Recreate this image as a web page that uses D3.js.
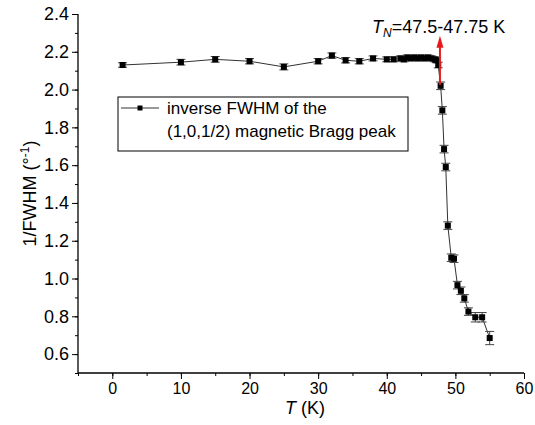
<!DOCTYPE html>
<html><head><meta charset="utf-8">
<script src="https://cdn.jsdelivr.net/npm/d3@7"></script>
<style>body{margin:0;background:#fff}svg{display:block}text{font-family:"Liberation Sans",Arial,sans-serif}</style>
</head><body><svg id="c" width="535" height="425"></svg>
<script>
const temps = [1.5, 10, 15, 20, 25, 30, 32, 34, 36, 38, 40, 41, 42, 42.5, 43, 43.5, 44, 44.5, 45, 45.5, 46, 46.5, 47, 47.25, 47.5, 47.85, 48.1, 48.35, 48.6, 48.9, 49.4, 49.8, 50.3, 50.8, 51.3, 51.9, 52.9, 53.9, 55];
const invFwhm = [2.13, 2.145, 2.16, 2.15, 2.12, 2.15, 2.18, 2.155, 2.15, 2.165, 2.16, 2.16, 2.165, 2.16, 2.17, 2.165, 2.17, 2.165, 2.17, 2.165, 2.17, 2.165, 2.16, 2.155, 2.13, 2.02, 1.89, 1.685, 1.59, 1.28, 1.11, 1.105, 0.965, 0.935, 0.895, 0.825, 0.795, 0.795, 0.685];
const errs = [0.012, 0.015, 0.015, 0.014, 0.016, 0.014, 0.014, 0.014, 0.014, 0.013, 0.013, 0.013, 0.013, 0.013, 0.013, 0.013, 0.013, 0.013, 0.013, 0.013, 0.013, 0.013, 0.013, 0.013, 0.015, 0.02, 0.02, 0.02, 0.02, 0.02, 0.02, 0.02, 0.02, 0.02, 0.02, 0.02, 0.025, 0.025, 0.035];
const xTicks = [0, 10, 20, 30, 40, 50, 60];
const yTicks = [0.6, 0.8, 1.0, 1.2, 1.4, 1.6, 1.8, 2.0, 2.2, 2.4];
const legendLines = ["inverse FWHM of the", "(1,0,1/2) magnetic Bragg peak"];
const tnRange = [47.75, 2.025, 2.285]; // arrow T, from, to

const svg = d3.select("#c");
const x = d3.scaleLinear().domain([-5, 60]).range([78, 524]);
const y = d3.scaleLinear().domain([0.5, 2.4]).range([373, 14]);

// axes
const xMinor = d3.range(-5, 61, 5);
const yMinor = d3.range(5, 25, 1).map(v => v / 10);
const gx = svg.append("g").attr("transform", "translate(0,373)");
gx.call(d3.axisBottom(x).tickValues(xMinor).tickSize(3).tickFormat(""));
gx.call(g => g.selectAll(".tick line").attr("stroke", "#000"));
const gx2 = svg.append("g").attr("transform", "translate(0,373)");
gx2.call(d3.axisBottom(x).tickValues(xTicks).tickSize(6).tickPadding(4).tickFormat(d3.format("d")));
gx2.select(".domain").attr("d", `M${x(-5)},0H${x(60)}`).attr("stroke-width", 1.3);
gx2.selectAll("text").attr("font-size", 16).attr("fill", "#000");
gx.select(".domain").remove();

const gy = svg.append("g").attr("transform", "translate(78,0)");
gy.call(d3.axisLeft(y).tickValues(yMinor).tickSize(3).tickFormat(""));
gy.select(".domain").remove();
const gy2 = svg.append("g").attr("transform", "translate(78,0)");
gy2.call(d3.axisLeft(y).tickValues(yTicks).tickSize(6).tickPadding(3).tickFormat(d3.format(".1f")));
gy2.select(".domain").attr("d", `M0,${y(0.5)}V${y(2.4)}`).attr("stroke-width", 1.3);
gy2.selectAll("text").attr("font-size", 18).attr("fill", "#000");

// axis titles
svg.append("text").attr("transform", `translate(36,${(y(0.5)+y(2.4))/2}) rotate(-90)`)
  .attr("text-anchor", "middle").attr("font-size", 18)
  .html('1/FWHM (°<tspan dy="-7" font-size="12">-1</tspan><tspan dy="7">)</tspan>');
svg.append("text").attr("x", (x(-5)+x(60))/2 + 4).attr("y", 414).attr("text-anchor", "middle").attr("font-size", 18)
  .html('<tspan font-style="italic">T</tspan> (K)');

// data
const data = temps.map((t, i) => ({t, v: invFwhm[i], e: errs[i]}));
svg.append("path").datum(data).attr("fill", "none").attr("stroke", "#333").attr("stroke-width", 1)
  .attr("d", d3.line().x(d => x(d.t)).y(d => y(d.v)));
const eb = svg.append("g").attr("stroke", "#444").attr("stroke-width", 1);
data.forEach(d => {
  const cx = x(d.t), y1 = y(d.v + d.e), y2 = y(d.v - d.e);
  eb.append("line").attr("x1", cx).attr("x2", cx).attr("y1", y1).attr("y2", y2);
  eb.append("line").attr("x1", cx - 4.5).attr("x2", cx + 4.5).attr("y1", y1).attr("y2", y1);
  eb.append("line").attr("x1", cx - 4.5).attr("x2", cx + 4.5).attr("y1", y2).attr("y2", y2);
});
svg.append("g").selectAll("rect").data(data).join("rect")
  .attr("x", d => x(d.t) - 3).attr("y", d => y(d.v) - 3).attr("width", 6).attr("height", 6).attr("fill", "#000");

// red arrow
const ax = x(tnRange[0]);
svg.append("line").attr("x1", ax).attr("x2", ax).attr("y1", y(tnRange[1])).attr("y2", y(tnRange[2]) + 10)
  .attr("stroke", "#e8191a").attr("stroke-width", 2);
svg.append("path").attr("d", `M${ax},${y(tnRange[2])}L${ax-3.5},${y(tnRange[2])+12}L${ax+3.5},${y(tnRange[2])+12}Z`).attr("fill", "#e8191a");

svg.append("text").attr("x", 372).attr("y", 33).attr("font-size", 18)
  .html('<tspan font-style="italic">T</tspan><tspan font-style="italic" font-size="12" dy="4">N</tspan><tspan dy="-4">=47.5-47.75 K</tspan>');

// legend
const lg = svg.append("g");
lg.append("rect").attr("x", 118).attr("y", 97).attr("width", 290).attr("height", 54)
  .attr("fill", "#fff").attr("stroke", "#000").attr("stroke-width", 1);
lg.append("line").attr("x1", 121).attr("x2", 159).attr("y1", 108).attr("y2", 108).attr("stroke", "#333");
lg.append("rect").attr("x", 137.5).attr("y", 105.5).attr("width", 5).attr("height", 5).attr("fill", "#000");
lg.selectAll("text.l").data(legendLines).join("text").attr("class", "l")
  .attr("x", 167).attr("y", (d, i) => 114 + i * 23).attr("font-size", 17).text(d => d);
</script></body></html>
